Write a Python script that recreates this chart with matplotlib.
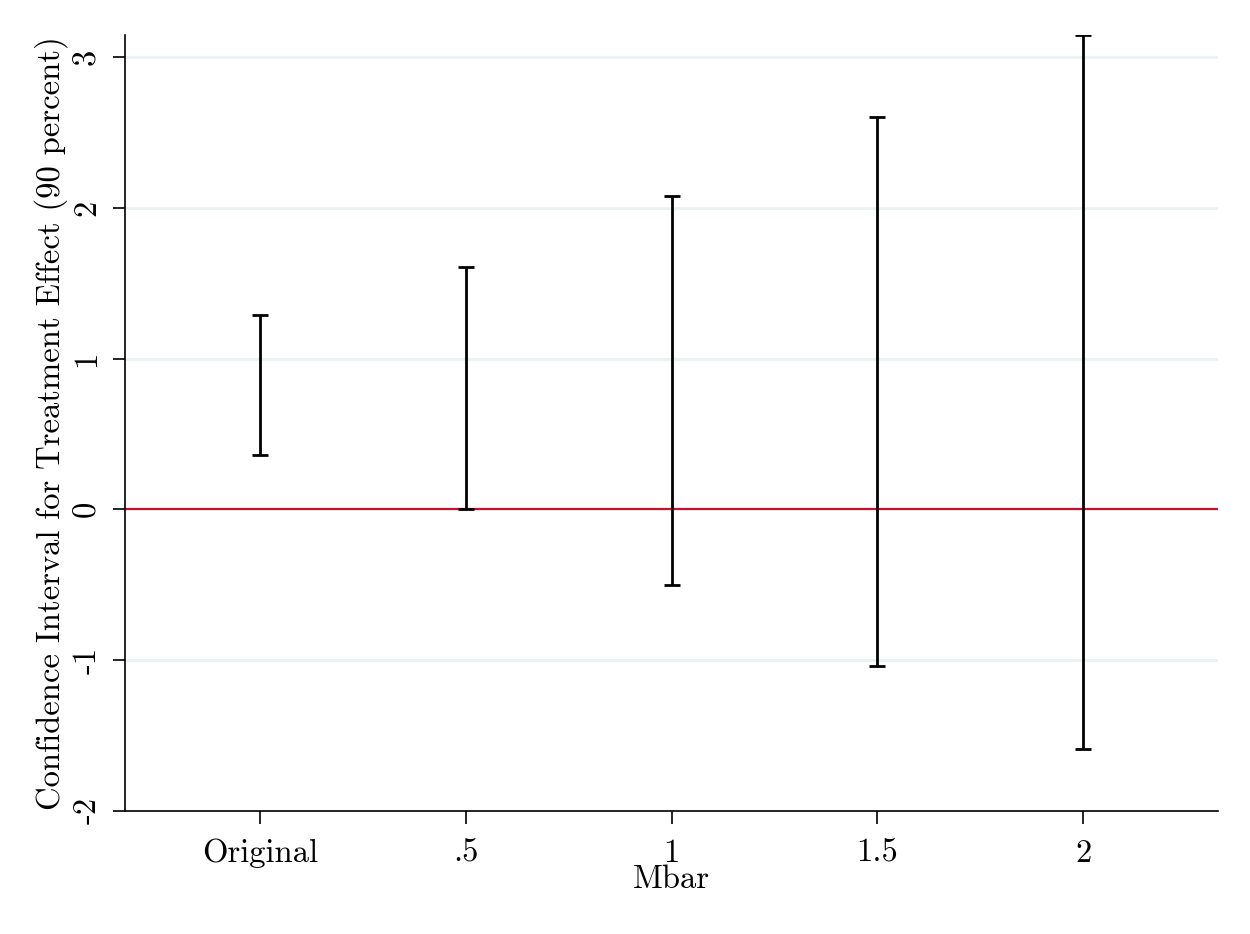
import numpy as np
import matplotlib.pyplot as plt

# sensitivity bounds for the treatment effect, 90 percent CI
mbar = [0, 0.5, 1, 1.5, 2]
mbar_labels = ['Original', '.5', '1', '1.5', '2']
ci_lower = [0.36, 0.00, -0.50, -1.04, -1.59]
ci_upper = [1.29, 1.61, 2.08, 2.60, 3.15]

yticks = [-2, -1, 0, 1, 2, 3]
ytick_labels = ['-2', '-1', '0', '1', '2', '3']

plt.rcParams['font.family'] = ['cmr10', 'DejaVu Serif']
plt.rcParams['axes.unicode_minus'] = False

fig = plt.figure(figsize=(12.5, 9.34), dpi=100)
ax = fig.add_axes([0.1, 0.132, 0.874, 0.831])

for yv in yticks:
    if yv != 0:
        ax.axhline(yv, color='#eaf2f3', lw=2, zorder=0)
ax.axhline(0, color='#c8102e', lw=1.6, zorder=1)

lo = np.array(ci_lower)
hi = np.array(ci_upper)
mid = (lo + hi) / 2
ax.errorbar(mbar, mid, yerr=[mid - lo, hi - mid], fmt='none',
            ecolor='black', elinewidth=2.0, capsize=6, capthick=2.0, zorder=2)

ax.set_xlim(-0.328, 2.326)
ax.set_ylim(-2, 3.15)
ax.set_xticks(mbar)
ax.set_xticklabels(mbar_labels)
ax.set_yticks(yticks)
ax.set_yticklabels(ytick_labels, rotation=90, va='center')

ax.spines['top'].set_visible(False)
ax.spines['right'].set_visible(False)
ax.spines['left'].set_linewidth(1.2)
ax.spines['bottom'].set_linewidth(1.2)
ax.tick_params(axis='both', length=9, width=1.2, labelsize=23.5, direction='out')
ax.tick_params(axis='x', pad=11)
ax.tick_params(axis='y', pad=8)

ax.set_xlabel('Mbar', fontsize=23.5, labelpad=-2)
ax.set_ylabel('Confidence Interval for Treatment Effect (90 percent)', fontsize=23.5, labelpad=3)

fig.savefig('out.png', dpi=100, facecolor='white')
